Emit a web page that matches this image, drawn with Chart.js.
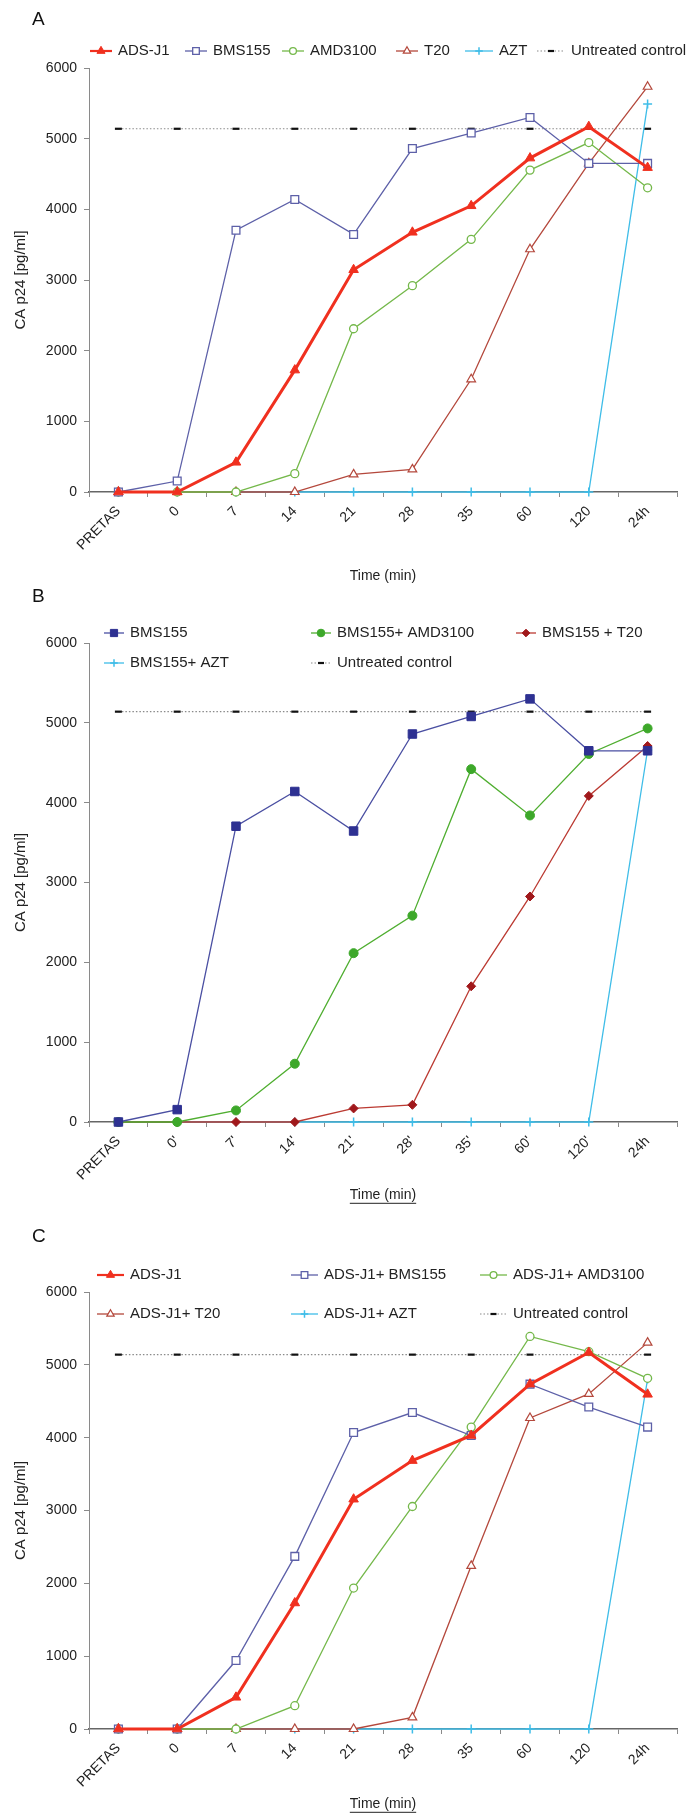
<!DOCTYPE html>
<html>
<head>
<meta charset="utf-8">
<title>CA p24 time course</title>
<script src="https://cdn.jsdelivr.net/npm/chart.js@4.4.1/dist/chart.umd.min.js"></script>
<style>
  html, body { margin: 0; padding: 0; background: #fff; }
  #page { position: relative; width: 691px; height: 1816px; overflow: hidden; }
  .panel { position: absolute; left: 0; width: 691px; }
  .letter { position: absolute; left: 32px; font-family: "Liberation Sans", Arial, sans-serif; font-size: 19px; line-height: 20px; color: #111; }
</style>
</head>
<body>
<div id="page">
  <div class="panel" style="top:0;height:590px"><canvas id="chartA"></canvas></div>
  <div class="panel" style="top:590px;height:620px"><canvas id="chartB"></canvas></div>
  <div class="panel" style="top:1210px;height:606px"><canvas id="chartC"></canvas></div>
  <div class="letter" style="top:9px">A</div>
  <div class="letter" style="top:586px">B</div>
  <div class="letter" style="top:1226px">C</div>
</div>
<script>
// time points
const timesA = ['PRETAS', '0', '7', '14', '21', '28', '35', '60', '120', '24h'];
const timesB = ['PRETAS', "0'", "7'", "14'", "21'", "28'", "35'", "60'", "120'", '24h'];
const timesC = ['PRETAS', '0', '7', '14', '21', '28', '35', '60', '120', '24h'];
const yTicks = [0, 1000, 2000, 3000, 4000, 5000, 6000];

// panel A, CA p24 in pg/ml
const aAdsJ1   = [0, 0, 420, 1725, 3145, 3675, 4050, 4725, 5170, 4590];
const aBms155  = [0, 155, 3705, 4140, 3645, 4860, 5080, 5300, 4650, 4650];
const aAmd3100 = [0, 0, 0, 260, 2310, 2920, 3575, 4555, 4945, 4305];
const aT20     = [0, 0, 0, 0, 250, 320, 1595, 3435, 4650, 5735];
const aAzt     = [0, 0, 0, 0, 0, 0, 0, 0, 0, 5490];
const aControl = [5140, 5140, 5140, 5140, 5140, 5140, 5140, 5140, 5140, 5140];

// panel B
const bBms155  = [0, 155, 3705, 4140, 3645, 4860, 5080, 5300, 4650, 4650];
const bAmd3100 = [0, 0, 145, 730, 2115, 2585, 4420, 3840, 4610, 4930];
const bT20     = [0, 0, 0, 0, 170, 215, 1700, 2825, 4085, 4710];
const bAzt     = [0, 0, 0, 0, 0, 0, 0, 0, 0, 4660];
const bControl = [5140, 5140, 5140, 5140, 5140, 5140, 5140, 5140, 5140, 5140];

// panel C
const cAdsJ1   = [0, 0, 435, 1730, 3155, 3685, 4030, 4735, 5170, 4595];
const cBms155  = [0, 0, 940, 2370, 4070, 4345, 4030, 4735, 4420, 4145];
const cAmd3100 = [0, 0, 0, 320, 1935, 3055, 4145, 5390, 5180, 4815];
const cT20     = [0, 0, 0, 0, 0, 160, 2240, 4270, 4600, 5305];
const cAzt     = [0, 0, 0, 0, 0, 0, 0, 0, 0, 4805];
const cControl = [5140, 5140, 5140, 5140, 5140, 5140, 5140, 5140, 5140, 5140];

// pick a condensed face if the machine has one
const probe = document.createElement('canvas').getContext('2d');
function textW(fam) { probe.font = '40px ' + fam; return probe.measureText('Untreated control 6000').width; }
const hasNarrow = textW('"Liberation Sans Narrow", monospace') !== textW('monospace');
const REG = '"Liberation Sans", Arial, sans-serif';
const FAMILY = hasNarrow ? '"Liberation Sans Narrow", ' + REG : REG;
const SZ = hasNarrow ? { legend: 19, tick: 18, title: 17 } : { legend: 15, tick: 14, title: 14 };

// marker/line looks
const red = { borderColor: '#f0301f', borderWidth: 3, pointStyle: 'triangle', pointRadius: 5.5,
  pointBackgroundColor: '#f0301f', pointBorderColor: '#f0301f', pointBorderWidth: 1 };
const blueOpen = { borderColor: '#5d60a8', borderWidth: 1.3, pointStyle: 'rect', pointRadius: 5.5,
  pointBackgroundColor: '#fff', pointBorderColor: '#5d60a8', pointBorderWidth: 1.3 };
const greenOpen = { borderColor: '#74b84a', borderWidth: 1.3, pointStyle: 'circle', pointRadius: 4,
  pointBackgroundColor: '#fff', pointBorderColor: '#74b84a', pointBorderWidth: 1.3 };
const brownOpen = { borderColor: '#b4483c', borderWidth: 1.3, pointStyle: 'triangle', pointRadius: 5,
  pointBackgroundColor: '#fff', pointBorderColor: '#b4483c', pointBorderWidth: 1.2 };
const cyanCross = { borderColor: '#3fbde8', borderWidth: 1.3, pointStyle: 'cross', pointRadius: 4.5,
  pointBackgroundColor: '#3fbde8', pointBorderColor: '#3fbde8', pointBorderWidth: 1.5 };
const navyFill = { borderColor: '#4a4fa2', borderWidth: 1.3, pointStyle: 'rect', pointRadius: 6,
  pointBackgroundColor: '#2e3192', pointBorderColor: '#2e3192', pointBorderWidth: 1 };
const greenFill = { borderColor: '#4fae30', borderWidth: 1.3, pointStyle: 'circle', pointRadius: 4.5,
  pointBackgroundColor: '#3da82a', pointBorderColor: '#3da82a', pointBorderWidth: 1 };
const redDiamond = { borderColor: '#bb3a32', borderWidth: 1.3, pointStyle: 'rectRot', pointRadius: 4.5,
  pointBackgroundColor: '#a0181b', pointBorderColor: '#a0181b', pointBorderWidth: 1 };
const control = { borderColor: '#8a8a8a', borderWidth: 1.1, borderDash: [1.5, 2], pointStyle: 'line', pointRadius: 3.5,
  pointBackgroundColor: '#111', pointBorderColor: '#111', pointBorderWidth: 2.2 };

function series(label, data, look) {
  return Object.assign({ label, data, tension: 0, clip: false }, look);
}

// legend drawn at fixed spots, partly over the plot like the original
const panelLegend = {
  id: 'panelLegend',
  afterDraw(chart, args, opts) {
    const ctx = chart.ctx;
    ctx.save();
    chart.data.datasets.forEach((ds, i) => {
      const x = opts.x[i], y = opts.y[i], w = opts.w[i];
      ctx.save();
      ctx.strokeStyle = ds.borderColor;
      ctx.lineWidth = Math.min(ds.borderWidth, 2.2);
      ctx.setLineDash(ds.borderDash || []);
      ctx.beginPath(); ctx.moveTo(x, y); ctx.lineTo(x + w, y); ctx.stroke();
      ctx.restore();
      ctx.save();
      ctx.strokeStyle = ds.pointBorderColor;
      ctx.fillStyle = ds.pointBackgroundColor;
      ctx.lineWidth = ds.pointBorderWidth;
      Chart.helpers.drawPoint(ctx, { pointStyle: ds.pointStyle, radius: ds.pointRadius * 0.85, rotation: 0,
        borderWidth: ds.pointBorderWidth }, x + w / 2, y);
      ctx.restore();
      ctx.fillStyle = '#222';
      ctx.font = SZ.legend + 'px ' + FAMILY;
      ctx.textBaseline = 'middle';
      ctx.fillText(ds.label, x + w + 6, y);
    });
    if (opts.underline) {
      const sx = chart.scales.x;
      const t = sx.options.title;
      ctx.font = SZ.title + 'px ' + FAMILY;
      const tw = ctx.measureText(t.text).width;
      const cx = (sx.left + sx.right) / 2;
      const cy = sx.bottom - t.padding.bottom - SZ.title * 0.6 + SZ.title * 0.55;
      ctx.strokeStyle = '#222'; ctx.lineWidth = 1;
      ctx.beginPath(); ctx.moveTo(cx - tw / 2, cy); ctx.lineTo(cx + tw / 2, cy); ctx.stroke();
    }
    ctx.restore();
  }
};

function xAxis(height, padBottom) {
  return {
    offset: true,
    afterFit: s => { s.height = height; },
    grid: { offset: true, drawOnChartArea: false, tickLength: 5, color: '#8a8a8a' },
    border: { color: '#666', width: 1.5 },
    ticks: { autoSkip: false, minRotation: 45, maxRotation: 45, padding: 6, color: '#222',
      font: { family: FAMILY, size: SZ.tick } },
    title: { display: true, text: 'Time (min)', color: '#222', font: { family: FAMILY, size: SZ.title },
      padding: { top: 0, bottom: padBottom } }
  };
}

function yAxis() {
  return {
    min: yTicks[0], max: yTicks[yTicks.length - 1],
    afterBuildTicks: s => { s.ticks = yTicks.map(v => ({ value: v })); },
    afterFit: s => { s.width = 89; },
    grid: { drawOnChartArea: false, tickLength: 5, color: '#8a8a8a' },
    border: { color: '#8a8a8a' },
    ticks: { padding: 7, color: '#222', font: { family: FAMILY, size: SZ.tick }, callback: v => String(v) },
    title: { display: true, text: 'CA p24 [pg/ml]', color: '#222', font: { family: REG, size: 15 },
      padding: { top: 12, bottom: 0 } }
  };
}

function makeChart(id, labels, datasets, cfg) {
  return new Chart(document.getElementById(id), {
    type: 'line',
    data: { labels, datasets },
    options: {
      responsive: true, maintainAspectRatio: false, animation: false,
      layout: { padding: { top: cfg.top, right: 14, left: 0, bottom: 0 } },
      plugins: { legend: { display: false }, tooltip: { enabled: false }, panelLegend: cfg.legend },
      scales: { x: xAxis(cfg.xHeight, cfg.titlePad), y: yAxis() }
    },
    plugins: [panelLegend]
  });
}

makeChart('chartA', timesA, [
  series('ADS-J1', aAdsJ1, red),
  series('BMS155', aBms155, blueOpen),
  series('AMD3100', aAmd3100, greenOpen),
  series('T20', aT20, brownOpen),
  series('AZT', aAzt, cyanCross),
  series('Untreated control', aControl, control)
], { top: 68, xHeight: 98, titlePad: 5,
  legend: { x: [90, 185, 282, 396, 465, 537], y: [51, 51, 51, 51, 51, 51], w: [22, 22, 22, 22, 28, 28] } });

makeChart('chartB', timesB, [
  series('BMS155', bBms155, navyFill),
  series('BMS155+ AMD3100', bAmd3100, greenFill),
  series('BMS155 + T20', bT20, redDiamond),
  series('BMS155+ AZT', bAzt, cyanCross),
  series('Untreated control', bControl, control)
], { top: 53, xHeight: 88, titlePad: 6,
  legend: { x: [104, 311, 516, 104, 311], y: [43, 43, 43, 73, 73], w: [20, 20, 20, 20, 20], underline: true } });

makeChart('chartC', timesC, [
  series('ADS-J1', cAdsJ1, red),
  series('ADS-J1+ BMS155', cBms155, blueOpen),
  series('ADS-J1+ AMD3100', cAmd3100, greenOpen),
  series('ADS-J1+ T20', cT20, brownOpen),
  series('ADS-J1+ AZT', cAzt, cyanCross),
  series('Untreated control', cControl, control)
], { top: 82, xHeight: 87, titlePad: 3,
  legend: { x: [97, 291, 480, 97, 291, 480], y: [65, 65, 65, 104, 104, 104], w: [27, 27, 27, 27, 27, 27], underline: true } });
</script>
</body>
</html>
